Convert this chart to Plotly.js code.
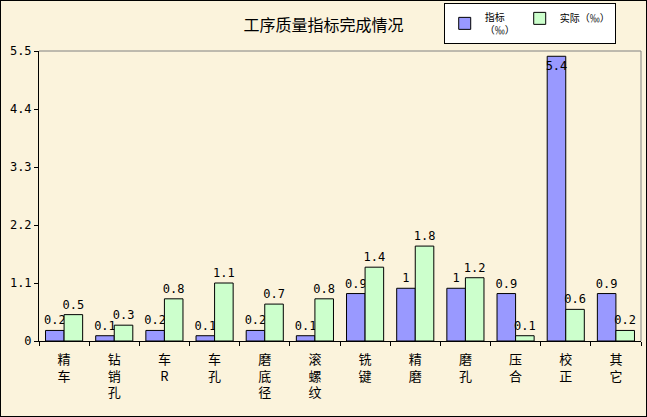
<!DOCTYPE html>
<html>
<head>
<meta charset="utf-8">
<script src="https://cdn.plot.ly/plotly-3.0.1.min.js"></script>
<style>
  body { margin: 0; background: #fff; }
  #chart { width: 645px; height: 415px; border: 1px solid #000; }
</style>
</head>
<body>
<div id="chart"></div>
<script>
// process names (line breaks as in the original axis)
const categories = ['精<br>车', '钻<br>销<br>孔', '车<br>R', '车<br>孔', '磨<br>底<br>径', '滚<br>螺<br>纹',
                    '铣<br>键', '精<br>磨', '磨<br>孔', '压<br>合', '校<br>正', '其<br>它'];
const targetVals = [0.2, 0.1, 0.2, 0.1, 0.2, 0.1, 0.9, 1, 1, 0.9, 5.4, 0.9];
const actualVals = [0.5, 0.3, 0.8, 1.1, 0.7, 0.8, 1.4, 1.8, 1.2, 0.1, 0.6, 0.2];
const yTicks = [0, 1.1, 2.2, 3.3, 4.4, 5.5];

const FONT = '"DejaVu Sans Mono", "Noto Sans CJK SC", monospace';
const CJK = '"Noto Sans CJK SC", sans-serif';

let target = {
    x: categories,
    y: targetVals,
    type: 'bar',
    name: '指标<br>（‰）',
    text: targetVals.map(String),
    // the tallest bar has its label inside, near the top
    textposition: targetVals.map(v => v > 5 ? 'inside' : 'outside'),
    insidetextanchor: 'end',
    textangle: 0,
    constraintext: 'none',
    textfont: {family: FONT, size: 12, color: '#000'},
    marker: {color: '#9999ff', line: {color: '#000', width: 1}},
    cliponaxis: false
};
let actual = {
    x: categories,
    y: actualVals,
    type: 'bar',
    name: '实际（‰）',
    text: actualVals.map(String),
    textposition: 'outside',
    textangle: 0,
    constraintext: 'none',
    textfont: {family: FONT, size: 12, color: '#000'},
    marker: {color: '#ccffcc', line: {color: '#000', width: 1}},
    cliponaxis: false
};

let layout = {
    width: 645,
    height: 415,
    paper_bgcolor: '#fbf3dc',
    plot_bgcolor: '#fbf3dc',
    margin: {l: 38, r: 5, t: 50, b: 75, autoexpand: false},
    font: {family: FONT, size: 12, color: '#000'},
    title: {text: '工序质量指标完成情况', x: 0.5, xanchor: 'center',
            y: 0.942, yanchor: 'middle',
            font: {family: CJK, size: 16}},
    barmode: 'group',
    bargap: 0.26,
    bargroupgap: 0,
    showlegend: true,
    legend: {
        orientation: 'h',
        x: 0.958, xanchor: 'right',
        y: 1.166, yanchor: 'top',
        bgcolor: '#fff',
        bordercolor: '#000',
        borderwidth: 1,
        font: {family: CJK, size: 10},
        itemwidth: 30,
        tracegroupgap: 0
    },
    xaxis: {
        showgrid: false,
        showline: true,
        linecolor: '#000',
        linewidth: 1,
        ticks: 'outside',
        tickson: 'boundaries',
        ticklen: 4,
        tickcolor: '#000',
        ticklabelstandoff: 6,
        tickfont: {family: CJK, size: 13}
    },
    yaxis: {
        range: [0, 5.5],
        tickvals: yTicks,
        ticktext: yTicks.map(String),
        showgrid: false,
        zeroline: false,
        showline: true,
        linecolor: '#000',
        ticks: 'outside',
        ticklen: 4,
        tickcolor: '#000',
        tickfont: {family: FONT, size: 12}
    },
    shapes: [
        // grey frame on the top and right of the plot area
        {type: 'line', xref: 'paper', yref: 'paper', x0: 0, x1: 1, y0: 1, y1: 1,
         line: {color: '#808080', width: 1}},
        {type: 'line', xref: 'paper', yref: 'paper', x0: 1, x1: 1, y0: 0, y1: 1,
         line: {color: '#808080', width: 1}}
    ]
};

Plotly.newPlot('chart', [target, actual], layout, {displayModeBar: false, staticPlot: true});
</script>
</body>
</html>
